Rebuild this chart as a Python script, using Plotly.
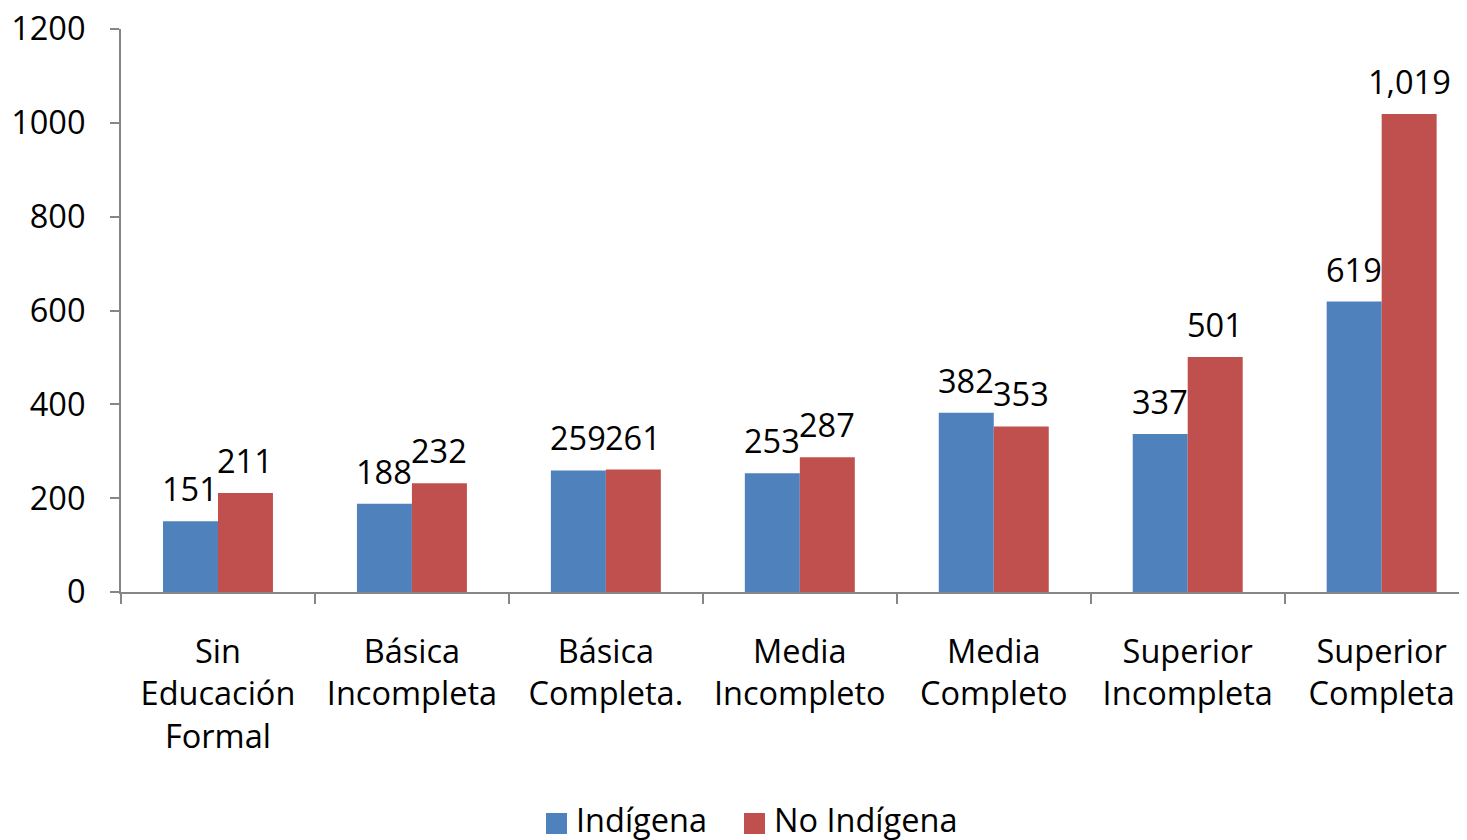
import plotly.graph_objects as go

categories = ["Sin<br>Educación<br>Formal", "Básica<br>Incompleta", "Básica<br>Completa.",
              "Media<br>Incompleto", "Media<br>Completo", "Superior<br>Incompleta", "Superior<br>Completa"]
indigena = [151, 188, 259, 253, 382, 337, 619]
no_indigena = [211, 232, 261, 287, 353, 501, 1019]
y_ticks = [0, 200, 400, 600, 800, 1000, 1200]
series_names = ["Indígena", "No Indígena"]

BLUE = "#4F81BD"
RED = "#C0504D"
AXIS = "#868686"
FONT = "Open Sans"
FS = 32.5

# page body has an 8px margin; compensate so the chart lands where the reference has it
OFF = 8
W, H = 1467 - OFF, 840 - OFF
ML, MT = 121 - OFF, 29 - OFF
MB = H - (592 - OFF)

fig = go.Figure()
fig.add_trace(go.Bar(name=series_names[0], x=categories, y=indigena, marker_color=BLUE,
                     marker_line_width=0, showlegend=False))
fig.add_trace(go.Bar(name=series_names[1], x=categories, y=no_indigena, marker_color=RED,
                     marker_line_width=0, showlegend=False))

half_bar_px = 27.5
for series, sign in ((indigena, -1), (no_indigena, 1)):
    for cat, val in zip(categories, series):
        fig.add_annotation(x=cat, y=val, xref="x", yref="y", text=f"{val:,}",
                           showarrow=False, yanchor="bottom", xanchor="center",
                           xshift=sign * half_bar_px, yshift=8,
                           font=dict(family=FONT, size=FS, color="black"))

# manual legend (reference page pixel positions converted to paper coordinates)
ph = H - MT - MB
pw = W - ML
def px_x(x):
    return (x - OFF - ML) / pw
def px_y(y):
    return (H - MB - (y - OFF)) / ph

legend_items = [(series_names[0], BLUE, 546), (series_names[1], RED, 744)]
for name, color, x0 in legend_items:
    fig.add_shape(type="rect", xref="paper", yref="paper",
                  x0=px_x(x0), x1=px_x(x0 + 21), y0=px_y(834), y1=px_y(813),
                  fillcolor=color, line_width=0)
    fig.add_annotation(xref="paper", yref="paper", x=px_x(x0 + 28), y=px_y(819),
                       xanchor="left", yanchor="middle", text=name, showarrow=False,
                       font=dict(family=FONT, size=FS, color="black"))

fig.update_layout(
    width=W, height=H,
    margin=dict(l=ML, r=0, t=MT, b=MB),
    paper_bgcolor="white", plot_bgcolor="white",
    barmode="group", bargap=0.433, bargroupgap=0,
    font=dict(family=FONT, size=FS, color="black"),
    showlegend=False,
)
fig.update_xaxes(type="category", range=[-0.5, 6.44], showline=True, linecolor=AXIS, linewidth=2,
                 ticks="outside", tickson="boundaries", ticklen=10, tickcolor=AXIS, tickwidth=2,
                 showgrid=False, ticklabelstandoff=30, automargin=False,
                 tickfont=dict(family=FONT, size=FS, color="black"))
fig.update_yaxes(range=[0, 1200], tickvals=y_ticks, showline=True, linecolor=AXIS, linewidth=2,
                 ticks="outside", ticklen=9, tickcolor=AXIS, tickwidth=2, showgrid=False,
                 zeroline=False, ticklabelstandoff=18, automargin=False,
                 ticklabeloverflow="allow",
                 tickfont=dict(family=FONT, size=FS, color="black"))

fig.write_html("out.html")
